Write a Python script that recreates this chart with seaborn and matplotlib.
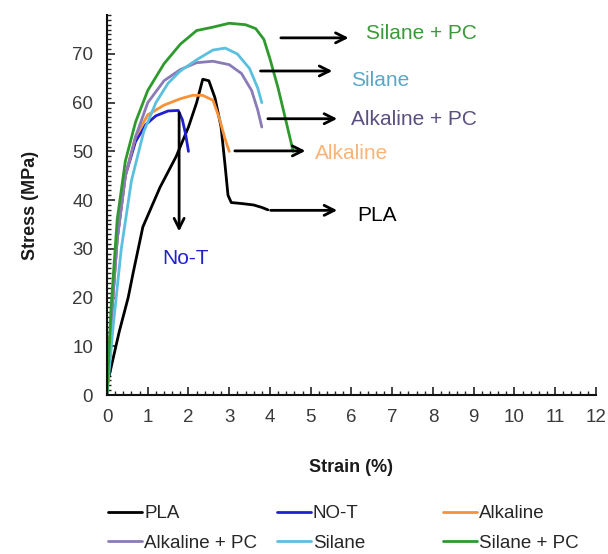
import matplotlib
matplotlib.use("Agg")
import matplotlib.pyplot as plt
import seaborn as sns
import pandas as pd
from matplotlib.ticker import MultipleLocator

# ---- data ----
series_names = ["PLA", "NO-T", "Alkaline", "Alkaline + PC", "Silane", "Silane + PC"]

pla_x = [0, 0.3, 0.52, 0.64, 0.88, 1.3, 1.7, 2.0, 2.2, 2.35, 2.5, 2.65, 2.8, 2.9, 2.97, 3.05, 3.3, 3.6, 3.8, 3.95]
pla_y = [2, 13, 20, 25, 34.5, 42.6, 49, 55, 60, 64.8, 64.5, 61, 55, 47, 41, 39.5, 39.3, 39, 38.5, 38]

not_x = [0, 0.1, 0.25, 0.45, 0.7, 0.95, 1.2, 1.5, 1.75, 1.85, 1.93, 2.0]
not_y = [0, 15, 32, 45, 52, 55.5, 57.3, 58.3, 58.4, 56.5, 53.5, 50]

alk_x = [0, 0.1, 0.25, 0.45, 0.7, 1.0, 1.4, 1.8, 2.1, 2.35, 2.6, 2.75, 2.9, 3.0]
alk_y = [0, 15, 32, 45, 53, 57.5, 59.5, 60.8, 61.5, 61.5, 60.5, 57, 52.5, 50]

alkpc_x = [0, 0.1, 0.25, 0.45, 0.7, 1.0, 1.4, 1.8, 2.2, 2.6, 3.0, 3.3, 3.55, 3.7, 3.8]
alkpc_y = [0, 15, 32, 45, 53, 60, 64.5, 66.8, 68.2, 68.5, 67.8, 66, 62.5, 58.5, 55]

sil_x = [0, 0.15, 0.35, 0.6, 0.9, 1.2, 1.5, 1.8, 2.2, 2.6, 2.9, 3.2, 3.5, 3.7, 3.8]
sil_y = [0, 14, 30, 44, 54, 60, 64, 66.5, 68.8, 70.8, 71.2, 70, 67, 63, 60]

silpc_x = [0, 0.1, 0.25, 0.45, 0.7, 1.0, 1.4, 1.8, 2.2, 2.6, 3.0, 3.4, 3.65, 3.85, 4.0, 4.2, 4.4, 4.57]
silpc_y = [0, 18, 36, 48, 56, 62.5, 68, 72, 74.8, 75.5, 76.3, 76, 75.2, 73, 69, 63, 56, 50]

colors = ["#000000", "#1f1fd6", "#f7923a", "#8a7ab8", "#5bc0de", "#2e9a2e"]

# annotation labels
ann_labels = ["Silane + PC", "Silane", "Alkaline + PC", "Alkaline", "PLA"]
ann_start_x = [4.2, 3.7, 3.88, 3.07, 3.95]
ann_end_x = [6.0, 5.6, 5.72, 4.94, 5.72]
ann_y = [73.3, 66.5, 56.7, 50.1, 37.9]
ann_text_x = [6.35, 6.0, 6.0, 5.1, 6.15]
ann_text_y = [74.2, 64.6, 56.6, 49.6, 36.9]
ann_colors = ["#3a9a3a", "#5aa8c8", "#5b4f80", "#f8b478", "#000000"]

xs = [pla_x, not_x, alk_x, alkpc_x, sil_x, silpc_x]
ys = [pla_y, not_y, alk_y, alkpc_y, sil_y, silpc_y]

rows = []
for name, xx, yy in zip(series_names, xs, ys):
    for i, (a, b) in enumerate(zip(xx, yy)):
        rows.append({"series": name, "order": i, "Strain": a, "Stress": b})
df = pd.DataFrame(rows)

sns.set_style("white")
plt.rcParams["font.family"] = ["Liberation Sans", "DejaVu Sans"]

fig = plt.figure(figsize=(6.08, 5.54), dpi=100)
ax = fig.add_axes([0.176, 0.287, 0.804, 0.686])

sns.lineplot(data=df, x="Strain", y="Stress", hue="series", hue_order=series_names,
             palette=colors, sort=False, estimator=None, units="series",
             linewidth=2, ax=ax, legend=False)

ax.set_xlim(0, 12)
ax.set_ylim(0, 78)
ax.xaxis.set_major_locator(MultipleLocator(1))
ax.xaxis.set_minor_locator(MultipleLocator(0.2))
ax.yaxis.set_major_locator(MultipleLocator(10))
ax.yaxis.set_minor_locator(MultipleLocator(1))
ax.tick_params(axis="both", which="major", direction="in", length=6, width=1.2,
               labelsize=13.5, colors="#222222", labelcolor="#3a3a3a", pad=10)
ax.tick_params(axis="both", which="minor", direction="in", length=3, width=1, colors="#222222")
ax.tick_params(left=True, bottom=True, which="both")
for s in ["top", "right"]:
    ax.spines[s].set_visible(False)
for s in ["left", "bottom"]:
    ax.spines[s].set_color("#111111")
    ax.spines[s].set_linewidth(1.5)

ax.set_xlabel("Strain (%)", fontsize=13, fontweight="bold", labelpad=24, color="#1a1a1a")
ax.set_ylabel("Stress (MPa)", fontsize=13, fontweight="bold", labelpad=24, color="#1a1a1a")

arrow_props = dict(arrowstyle="->", color="black", lw=2, mutation_scale=18)
for lab, sx, ex, yy, tx, ty, c in zip(ann_labels, ann_start_x, ann_end_x, ann_y,
                                      ann_text_x, ann_text_y, ann_colors):
    ax.annotate("", xy=(ex, yy), xytext=(sx, yy), arrowprops=arrow_props)
    ax.text(tx, ty, lab, color=c, fontsize=15, ha="left", va="center")

ax.annotate("", xy=(1.77, 33.0), xytext=(1.77, 58.5), arrowprops=arrow_props)
ax.text(1.92, 28.0, "No-T", color="#2222cc", fontsize=15, ha="center", va="center")

handles = ax.get_lines()[:6]
col_groups = [[0, 3], [1, 4], [2, 5]]
col_x = [108 / 608, 277 / 608, 443 / 608]
for grp, cx in zip(col_groups, col_x):
    fig.legend([handles[i] for i in grp], [series_names[i] for i in grp],
               ncol=1, loc="upper left", bbox_to_anchor=(cx, 1 - 505 / 554),
               frameon=False, fontsize=13.5, handlelength=1.8, handletextpad=0.12,
               labelspacing=0.68, borderpad=0, borderaxespad=0)

fig.savefig("out.png", dpi=100)
